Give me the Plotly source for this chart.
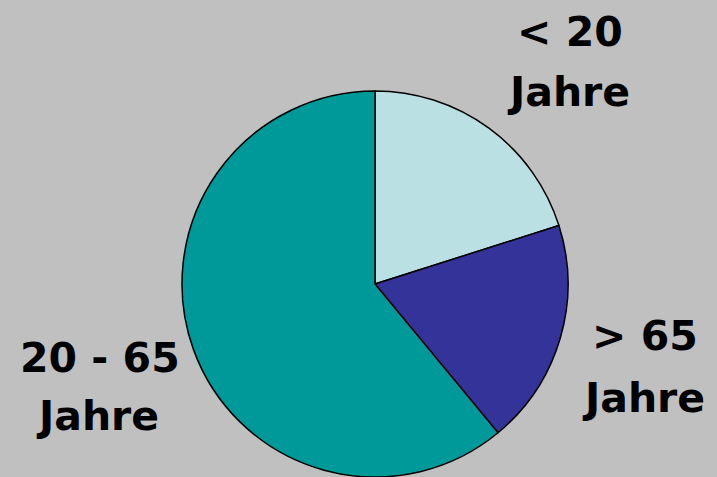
import plotly.graph_objects as go

labels = ["< 20 Jahre", "> 65 Jahre", "20 - 65 Jahre"]
values = [20.1, 18.9, 61.0]
colors = ["#BBE0E3", "#333399", "#009999"]
label_lines = [["< 20", "Jahre"], ["> 65", "Jahre"], ["20 - 65", "Jahre"]]

W, H = 717, 477
cx, cy, r = 375, 284, 193

fig = go.Figure(go.Pie(
    labels=labels, values=values, sort=False, direction="clockwise",
    rotation=0, marker=dict(colors=colors, line=dict(color="black", width=1.5)),
    textinfo="none", hoverinfo="label+percent", showlegend=False,
    domain=dict(x=[(cx - r) / W, (cx + r) / W], y=[max(0, 1 - (cy + r) / H), 1 - (cy - r) / H]),
))

font = dict(family="DejaVu Sans", size=41, color="black")
pos = [[(570, 32), (568, 92)], [(645, 336), (643, 398)], [(100, 358), (97, 416)]]
for lines, ps in zip(label_lines, pos):
    for t, (x, y) in zip(lines, ps):
        fig.add_annotation(text="<b>" + t.replace("<", "&lt;").replace(">", "&gt;") + "</b>",
                           x=x / W, y=1 - y / H, xref="paper", yref="paper",
                           showarrow=False, font=font, xanchor="center", yanchor="middle")

fig.update_layout(width=W, height=H, margin=dict(l=0, r=0, t=0, b=0),
                  paper_bgcolor="#C0C0C0", plot_bgcolor="#C0C0C0")
fig.write_html("out.html", config={"displayModeBar": False})

with open("out.html", encoding="utf-8") as f:
    html = f.read()
html = html.replace("<head>", "<head><style>html,body{margin:0;padding:0;background:#C0C0C0;overflow:hidden}</style>", 1)
with open("out.html", "w", encoding="utf-8") as f:
    f.write(html)
